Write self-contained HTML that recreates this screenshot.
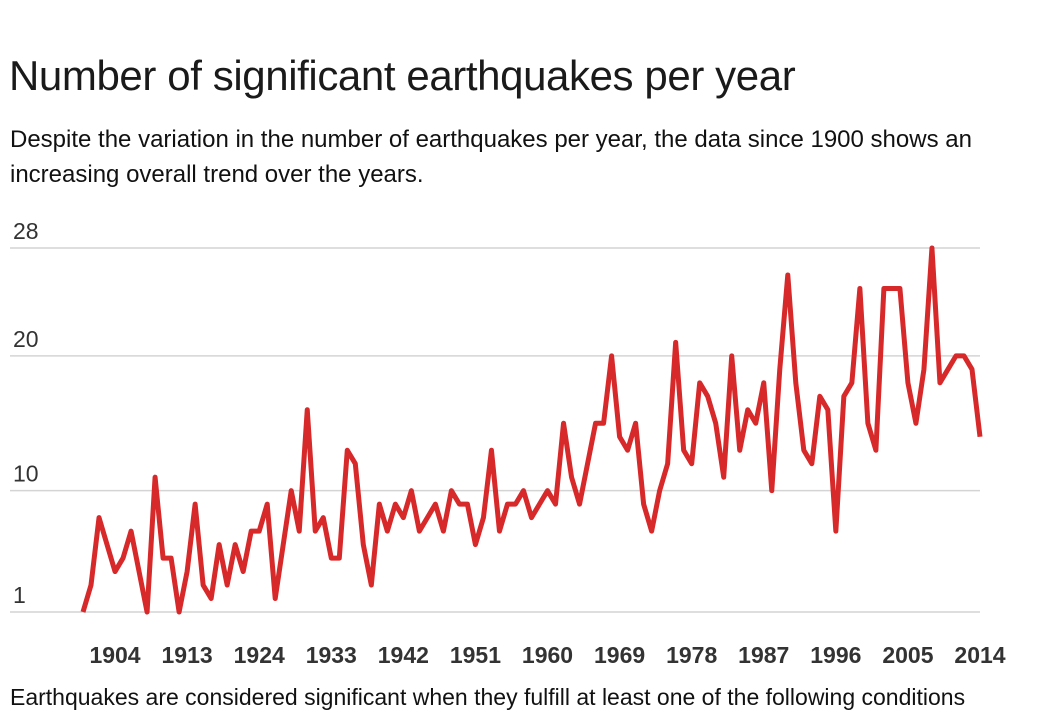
<!DOCTYPE html>
<html><head><meta charset="utf-8"><style>
html,body{margin:0;width:1038px;height:694px;overflow:hidden;background:#fff;font-family:"Liberation Sans",sans-serif;color:#111}
#title{position:absolute;left:9px;top:52px;font-size:42px;font-weight:normal;margin:0;letter-spacing:-0.4px;white-space:nowrap;color:#1a1a1a}
#sub{position:absolute;left:10px;top:122px;font-size:24px;line-height:35px;width:1010px;margin:0}
#foot{position:absolute;left:10px;top:684px;font-size:23px;white-space:nowrap}
svg{position:absolute;left:0;top:0}
</style></head><body>
<h1 id="title">Number of significant earthquakes per year</h1>
<p id="sub">Despite the variation in the number of earthquakes per year, the data since 1900 shows an<br>increasing overall trend over the years.</p>
<svg id="chart" width="1038" height="694"></svg>
<div id="foot">Earthquakes are considered significant when they fulfill at least one of the following conditions</div>
<script>
const counts=[1,3,8,6,4,5,7,4,1,11,5,5,1,4,9,3,2,6,3,6,4,7,7,9,2,6,10,7,16,7,8,5,5,13,12,6,3,9,7,9,8,10,7,8,9,7,10,9,9,6,8,13,7,9,9,10,8,9,10,9,15,11,9,12,15,15,20,14,13,15,9,7,10,12,21,13,12,18,17,15,11,20,13,16,15,18,10,19,26,18,13,12,17,16,7,17,18,25,15,13,25,25,25,18,15,19,28,18,19,20,20,19,14];
const yTicks=[1,10,20,28];
const xTickLabels=["1904","1913","1924","1933","1942","1951","1960","1969","1978","1987","1996","2005","2014"];
const xTickIndex=[4,13,22,31,40,49,58,67,76,85,94,103,112];
const svg=document.getElementById('chart');const NS='http://www.w3.org/2000/svg';
const x=i=>83+i*(980-83)/(counts.length-1);
const y=v=>612-(v-1)*(612-248)/27;
yTicks.forEach(t=>{
 const l=document.createElementNS(NS,'line');
 
 
 l.setAttribute('x1',10);l.setAttribute('x2',980);l.setAttribute('y1',y(t));l.setAttribute('y2',y(t));
 l.setAttribute('stroke','#d4d4d4');l.setAttribute('stroke-width','1.5');svg.appendChild(l);
 const tx=document.createElementNS(NS,'text');
 
 
 tx.setAttribute('x',13);tx.setAttribute('y',y(t)-9);tx.setAttribute('font-size','23');tx.setAttribute('fill','#333');
 tx.textContent=t;svg.appendChild(tx);
});
xTickLabels.forEach((s,k)=>{
 const tx=document.createElementNS(NS,'text');
 
 
 tx.setAttribute('x',x(xTickIndex[k]));tx.setAttribute('y',663);tx.setAttribute('text-anchor','middle');
 tx.setAttribute('font-size','23');tx.setAttribute('font-weight','bold');tx.setAttribute('fill','#333');
 tx.textContent=s;svg.appendChild(tx);
});
const p=document.createElementNS(NS,'polyline');


p.setAttribute('points',counts.map((v,i)=>x(i)+','+y(v)).join(' '));
p.setAttribute('fill','none');p.setAttribute('stroke','#d7282a');p.setAttribute('stroke-width','5');p.setAttribute('stroke-linejoin','round');
svg.appendChild(p);
</script>
</body></html>
